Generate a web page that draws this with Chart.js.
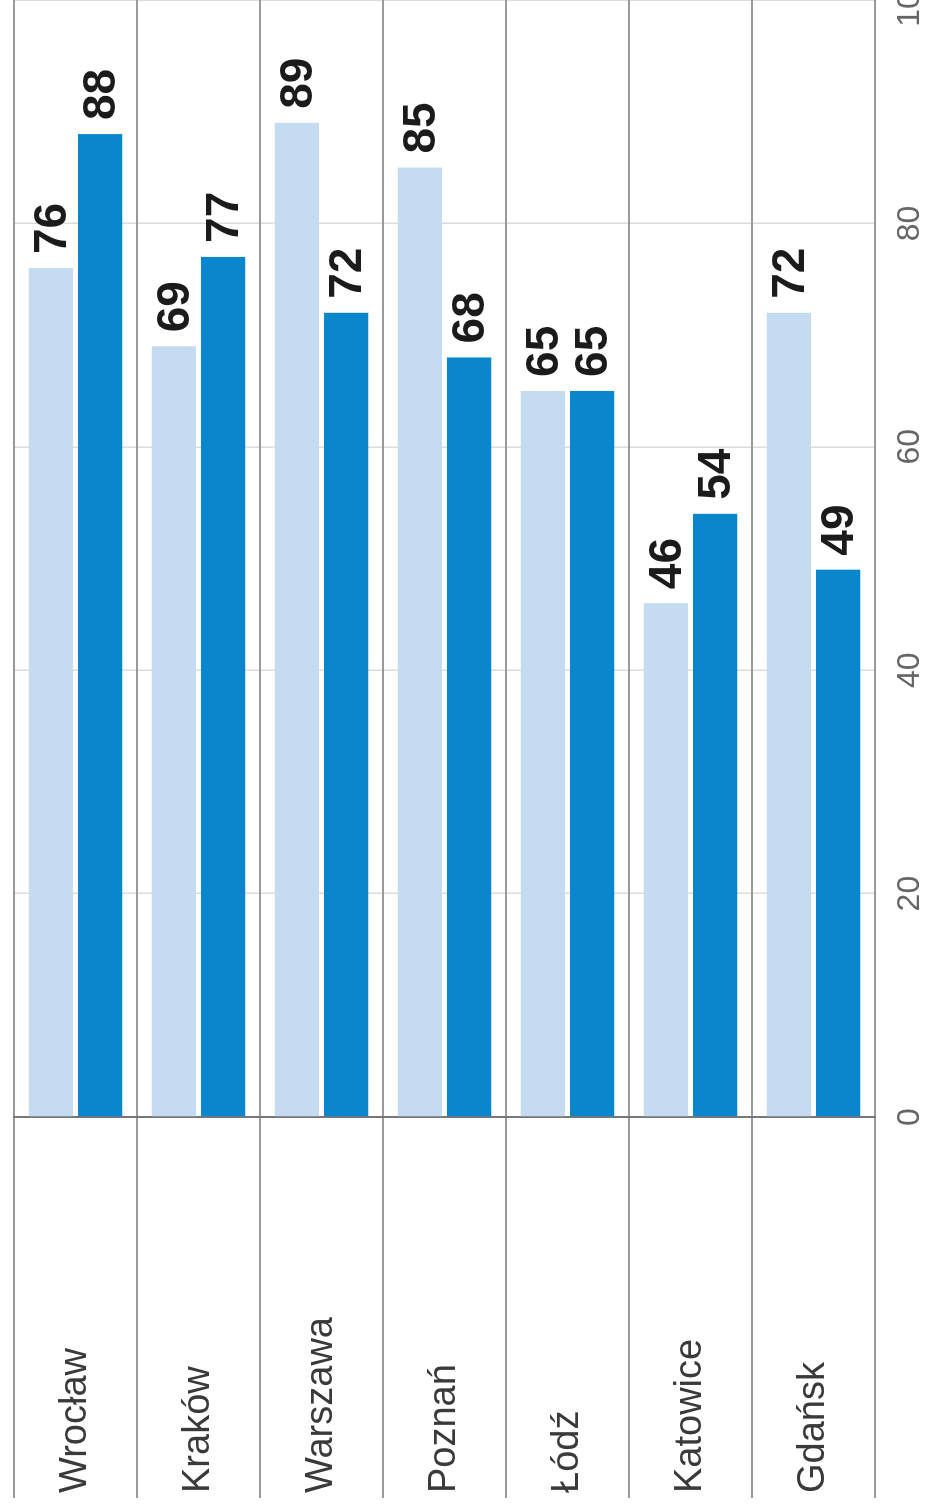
<!DOCTYPE html>
<html>
<head>
<meta charset="utf-8">
<script src="https://cdn.jsdelivr.net/npm/chart.js@4"></script>
<style>
    html, body { margin: 0; padding: 0; background: #fff; overflow: hidden; width: 928px; height: 1508px; }
    /* the chart is drawn lying on its side and turned a quarter turn */
    #wrap {
        position: absolute;
        left: 0;
        top: 0;
        width: 1508px;
        height: 928px;
        transform-origin: 0 0;
        transform: translateY(1508px) rotate(-90deg);
    }
</style>
</head>
<body>
<div id="wrap"><canvas id="chart" width="1508" height="928"></canvas></div>
<script>
const cities = ['Wrocław', 'Kraków', 'Warszawa', 'Poznań', 'Łódź', 'Katowice', 'Gdańsk'];
const lightValues = [76, 69, 89, 85, 65, 46, 72];
const darkValues = [88, 77, 72, 68, 65, 54, 49];
const axisMin = 0;
const axisMax = 100;
const axisStep = 20;

const labelFont = "'Liberation Sans', Arial, sans-serif";

// bold numbers just past the end of each bar
const valueLabels = {
    id: 'valueLabels',
    afterDatasetsDraw(chart) {
        const ctx = chart.ctx;
        ctx.save();
        ctx.font = "bold 46px 'Liberation Sans', Arial, sans-serif";
        ctx.fillStyle = '#1b1b1b';
        ctx.textAlign = 'left';
        ctx.textBaseline = 'middle';
        chart.data.datasets.forEach((ds, i) => {
            chart.getDatasetMeta(i).data.forEach((bar, j) => {
                ctx.fillText(String(ds.data[j]), bar.x + 14, bar.y + 2);
            });
        });
        ctx.restore();
    }
};

new Chart(document.getElementById('chart').getContext('2d'), {
    type: 'bar',
    data: {
        labels: cities,
        datasets: [
            { label: 'seria 1', data: lightValues, backgroundColor: '#c5dbf1' },
            { label: 'seria 2', data: darkValues, backgroundColor: '#0a86cc' }
        ]
    },
    options: {
        indexAxis: 'y',
        responsive: false,
        animation: false,
        categoryPercentage: 0.8,
        barPercentage: 0.9,
        layout: { padding: { top: 14, left: 15, right: 0, bottom: 0 } },
        plugins: {
            legend: { display: false },
            tooltip: { enabled: false }
        },
        scales: {
            x: {
                position: 'bottom',
                min: axisMin,
                max: axisMax,
                ticks: {
                    stepSize: axisStep,
                    padding: 16,
                    color: '#666',
                    font: { family: "'Liberation Sans', Arial, sans-serif", size: 32 }
                },
                grid: { color: '#dcdcdc', lineWidth: 1.5, drawTicks: false },
                border: { display: false },
                afterFit(scale) {
                    scale.paddingLeft = 0;
                    scale.paddingRight = 0;
                    scale.height = 53;
                }
            },
            y: {
                position: 'left',
                ticks: {
                    crossAlign: 'far',
                    padding: 0,
                    color: '#3a3a3a',
                    font: { family: labelFont, size: 38 }
                },
                grid: {
                    offset: true,
                    color: '#9a9a9a',
                    lineWidth: 2,
                    drawTicks: true,
                    tickLength: 381
                },
                border: { display: true, color: '#777', width: 2 },
                afterFit(scale) {
                    scale.paddingTop = 0;
                    scale.paddingBottom = 0;
                    scale.width = 376;
                }
            }
        }
    },
    plugins: [valueLabels]
});
</script>
</body>
</html>
